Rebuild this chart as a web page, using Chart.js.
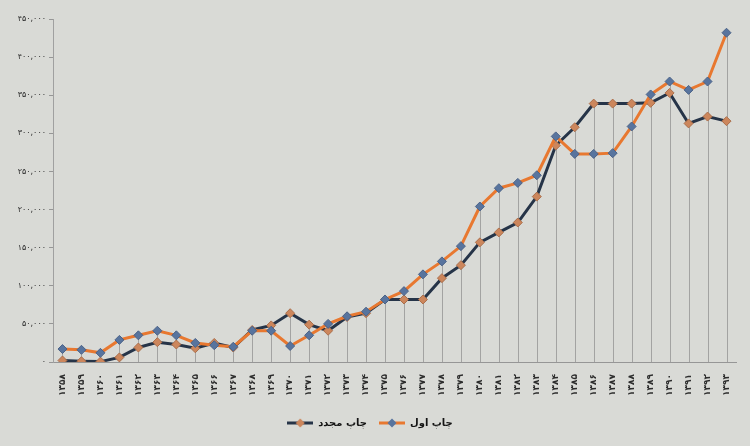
<!DOCTYPE html>
<html lang="fa">
<head>
<meta charset="UTF-8">
<title>چاپ اول و چاپ مجدد</title>
<script src="https://cdn.jsdelivr.net/npm/chart.js"></script>
<style>
  html, body { margin: 0; padding: 0; background: #d9dad6; }
  .wrap { width: 750px; height: 446px; }
</style>
</head>
<body>
<div class="wrap"><canvas id="myChart" width="750" height="446"></canvas></div>
<script>
// سال‌ها (محور افقی)
var years = ['۱۳۵۸', '۱۳۵۹', '۱۳۶۰', '۱۳۶۱', '۱۳۶۲', '۱۳۶۳', '۱۳۶۴', '۱۳۶۵', '۱۳۶۶', '۱۳۶۷',
  '۱۳۶۸', '۱۳۶۹', '۱۳۷۰', '۱۳۷۱', '۱۳۷۲', '۱۳۷۳', '۱۳۷۴', '۱۳۷۵', '۱۳۷۶', '۱۳۷۷',
  '۱۳۷۸', '۱۳۷۹', '۱۳۸۰', '۱۳۸۱', '۱۳۸۲', '۱۳۸۳', '۱۳۸۴', '۱۳۸۵', '۱۳۸۶', '۱۳۸۷',
  '۱۳۸۸', '۱۳۸۹', '۱۳۹۰', '۱۳۹۱', '۱۳۹۲', '۱۳۹۳'];

// چاپ اول
var chapAval = [17000, 16000, 12000, 29000, 35000, 41000, 35000, 25000, 22000, 20000,
  41000, 41000, 21000, 35000, 50000, 60000, 66000, 82000, 93000, 115000,
  132000, 152000, 204000, 228000, 235000, 245000, 296000, 273000, 273000, 274000,
  309000, 351000, 368000, 357000, 368000, 432000];

// چاپ مجدد
var chapMojadad = [2000, 1000, 500, 6000, 19000, 26000, 23000, 18000, 25000, 19000,
  42000, 48000, 64000, 49000, 41000, 59000, 64000, 82000, 82000, 82000,
  110000, 127000, 157000, 170000, 183000, 217000, 284000, 308000, 339000, 339000,
  339000, 340000, 353000, 313000, 322000, 316000];

var yTickLabels = ['۰', '۵۰,۰۰۰', '۱۰۰,۰۰۰', '۱۵۰,۰۰۰', '۲۰۰,۰۰۰', '۲۵۰,۰۰۰',
  '۳۰۰,۰۰۰', '۳۵۰,۰۰۰', '۴۰۰,۰۰۰', '۴۵۰,۰۰۰'];

var navy = 'rgb(38, 52, 72)';
var orange = 'rgb(232, 120, 48)';
var blueMark = 'rgb(88, 116, 158)';
var orangeMark = 'rgb(204, 134, 92)';

// نمونهٔ راهنما: خط با لوزی وسط
function legendIcon(lineColor, markColor) {
  var c = document.createElement('canvas');
  c.width = 26; c.height = 10;
  var g = c.getContext('2d');
  g.strokeStyle = lineColor;
  g.lineWidth = 3;
  g.beginPath(); g.moveTo(0, 5); g.lineTo(26, 5); g.stroke();
  g.fillStyle = markColor;
  g.beginPath(); g.moveTo(13, 0.5); g.lineTo(17.5, 5); g.lineTo(13, 9.5); g.lineTo(8.5, 5); g.closePath(); g.fill();
  return c;
}
var icons = [legendIcon(orange, blueMark), legendIcon(navy, orangeMark)];

// خطوط عمودی از بالاترین نقطه تا محور
var dropLines = {
  id: 'dropLines',
  beforeDatasetsDraw: function (chart) {
    var ctx = chart.ctx;
    var x = chart.scales.x, y = chart.scales.y;
    ctx.save();
    ctx.strokeStyle = 'rgba(140, 140, 140, 0.7)';
    ctx.lineWidth = 1;
    for (var i = 0; i < years.length; i++) {
      var top = Math.max(chapAval[i], chapMojadad[i]);
      var px = Math.round(x.getPixelForValue(i)) + 0.5;
      ctx.beginPath();
      ctx.moveTo(px, y.getPixelForValue(top));
      ctx.lineTo(px, chart.chartArea.bottom);
      ctx.stroke();
    }
    ctx.restore();
  }
};

Chart.defaults.font.family = '"DejaVu Sans", sans-serif';
Chart.defaults.color = 'rgb(45, 45, 45)';

new Chart(document.getElementById('myChart'), {
  type: 'line',
  data: {
    labels: years,
    datasets: [{
      label: 'چاپ اول',
      data: chapAval,
      borderColor: orange,
      borderWidth: 3,
      pointStyle: 'rectRot',
      pointRadius: 4.5,
      pointBackgroundColor: blueMark,
      pointBorderColor: 'rgb(75, 98, 135)',
      pointBorderWidth: 1,
      tension: 0
    }, {
      label: 'چاپ مجدد',
      data: chapMojadad,
      borderColor: navy,
      borderWidth: 3,
      pointStyle: 'rectRot',
      pointRadius: 4.5,
      pointBackgroundColor: orangeMark,
      pointBorderColor: 'rgb(170, 110, 75)',
      pointBorderWidth: 1,
      tension: 0
    }]
  },
  options: {
    responsive: false,
    animation: false,
    layout: { padding: { left: 4, right: 14, top: 19, bottom: 8 } },
    scales: {
      x: {
        offset: true,
        grid: { display: false },
        border: { display: true, color: 'rgb(150, 150, 150)', width: 1 },
        ticks: {
          minRotation: 90, maxRotation: 90, autoSkip: false,
          padding: 4,
          font: { size: 9, weight: 'bold' }
        },
        afterFit: function (s) { s.height = 44; }
      },
      y: {
        min: 0, max: 450000,
        grid: { drawOnChartArea: false, drawTicks: true, tickLength: 4, color: 'rgb(150, 150, 150)' },
        border: { display: true, color: 'rgb(160, 160, 160)', width: 1 },
        ticks: {
          stepSize: 50000,
          padding: 3,
          font: { size: 8 },
          callback: function (v, i) { return yTickLabels[i]; }
        },
        afterFit: function (s) { s.width = 49; }
      }
    },
    plugins: {
      tooltip: { enabled: false },
      legend: {
        position: 'bottom',
        reverse: true,
        labels: {
          usePointStyle: true,
          pointStyleWidth: 26,
          boxHeight: 10,
          padding: 12,
          font: { size: 10, weight: 'bold' },
          color: 'rgb(20, 20, 20)',
          generateLabels: function (chart) {
            var items = Chart.defaults.plugins.legend.labels.generateLabels(chart);
            items.forEach(function (it) { it.pointStyle = icons[it.datasetIndex]; });
            return items;
          }
        }
      }
    }
  },
  plugins: [dropLines]
});
</script>
</body>
</html>
